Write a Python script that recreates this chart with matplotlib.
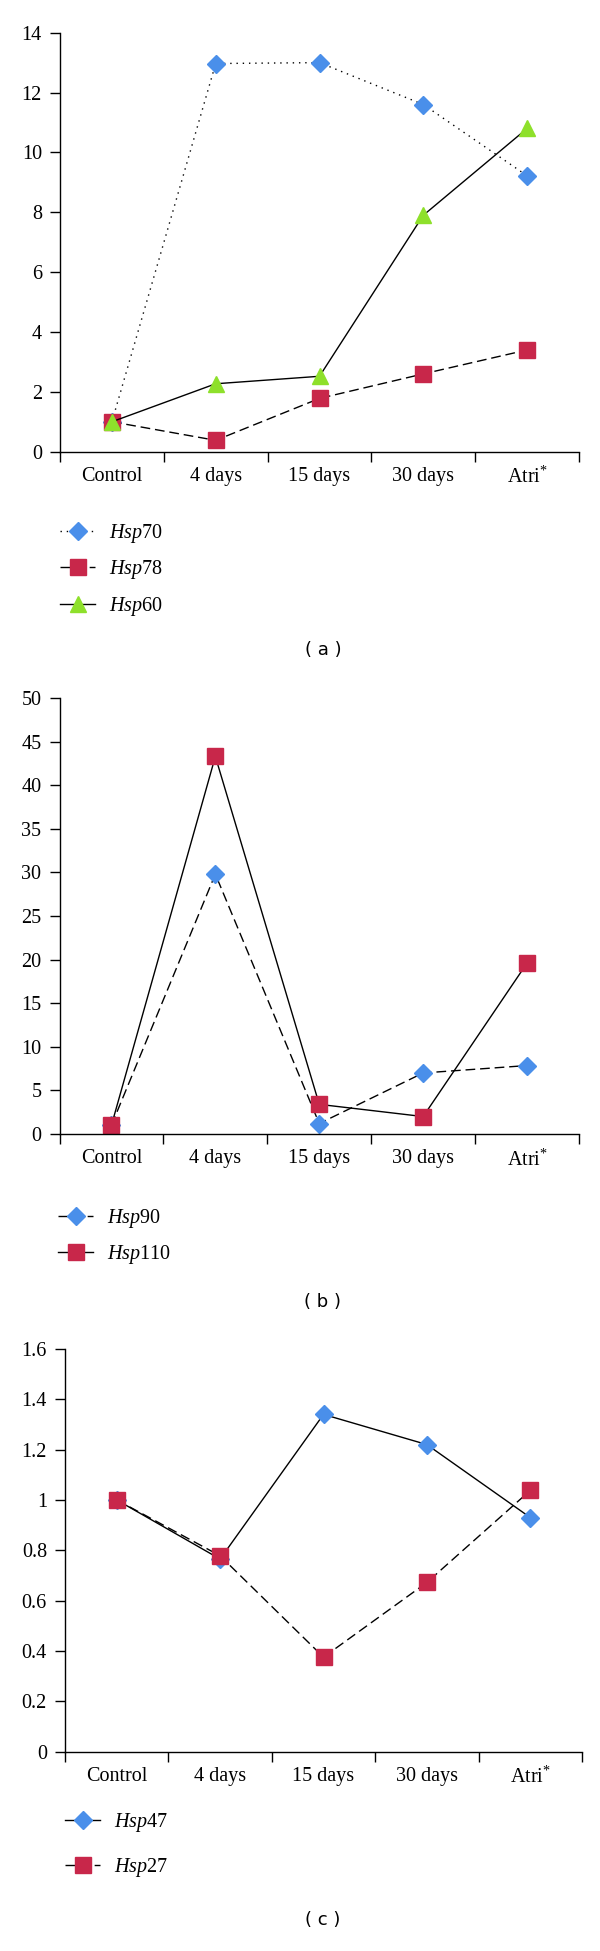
import matplotlib
matplotlib.use("Agg")
import matplotlib.pyplot as plt

plt.rcParams['font.family'] = ['Liberation Serif', 'DejaVu Serif']
plt.rcParams['mathtext.fontset'] = 'custom'
plt.rcParams['mathtext.rm'] = 'Liberation Serif'
plt.rcParams['mathtext.it'] = 'Liberation Serif:italic'

# data
categories = ['Control', '4 days', '15 days', '30 days', 'Atri$^{*}$']

hsp70 = [1.0, 12.97, 13.0, 11.6, 9.22]
hsp78 = [1.0, 0.38, 1.78, 2.6, 3.4]
hsp60 = [1.0, 2.27, 2.52, 7.9, 10.8]

hsp90 = [1.0, 29.8, 1.2, 7.0, 7.85]
hsp110 = [1.0, 43.3, 3.4, 2.0, 19.6]

hsp47 = [1.0, 0.765, 1.34, 1.22, 0.93]
hsp27 = [1.0, 0.778, 0.375, 0.672, 1.038]

yticks_a = [0, 2, 4, 6, 8, 10, 12, 14]
yticks_b = [0, 5, 10, 15, 20, 25, 30, 35, 40, 45, 50]
yticks_c = [0, 0.2, 0.4, 0.6, 0.8, 1.0, 1.2, 1.4, 1.6]
ylabels_c = ['0', '0.2', '0.4', '0.6', '0.8', '1', '1.2', '1.4', '1.6']

BLUE = '#4A8FEA'
RED = '#C8274A'
GREEN = '#8EE02B'

W, H = 600, 1951
fig = plt.figure(figsize=(W / 100, H / 100), dpi=100)


def px_axes(left, top, right, bottom):
    return fig.add_axes([left / W, 1 - bottom / H, (right - left) / W, (bottom - top) / H])


def style_axes(ax, ymax, yticks, ylabels=None):
    n = len(categories)
    ax.set_xlim(-0.5, n - 0.5)
    ax.set_ylim(0, ymax)
    for s in ['top', 'right']:
        ax.spines[s].set_visible(False)
    for s in ['left', 'bottom']:
        ax.spines[s].set_linewidth(1.0)
    ax.set_yticks(yticks)
    if ylabels is not None:
        ax.set_yticklabels(ylabels)
    # boundary ticks on x, labels sit between them
    ax.set_xticks([i - 0.5 for i in range(n + 1)])
    ax.set_xticklabels([])
    ax.set_xticks(range(n), categories, minor=True)
    ax.tick_params(axis='x', which='major', direction='out', length=7, width=1.0)
    ax.tick_params(axis='x', which='minor', length=0, pad=11, labelsize=14.5)
    ax.tick_params(axis='y', direction='out', length=7, width=1.0, pad=6, labelsize=14.5)


def add_legend(ax, x, ytop, spacing):
    leg = ax.legend(loc='upper left', bbox_to_anchor=(x / W, 1 - ytop / H),
                    bbox_transform=fig.transFigure, frameon=False, fontsize=14.5,
                    handlelength=1.75, handletextpad=0.7, borderpad=0, borderaxespad=0,
                    labelspacing=spacing)
    return leg


x = list(range(len(categories)))

# ---- panel (a)
ax1 = px_axes(60, 32.7, 579, 451.7)
ax1.plot(x, hsp70, color='black', lw=1.0, ls=(0, (1, 3.5)), marker='D', ms=9.5,
         mfc=BLUE, mec=BLUE, label=r'$\mathit{Hsp}$70', clip_on=False)
ax1.plot(x, hsp78, color='black', lw=1.0, ls=(0, (7, 3.5)), marker='s', ms=11.5,
         mfc=RED, mec=RED, label=r'$\mathit{Hsp}$78', clip_on=False)
ax1.plot(x, hsp60, color='black', lw=1.0, ls='-', marker='^', ms=12,
         mfc=GREEN, mec=GREEN, label=r'$\mathit{Hsp}$60', clip_on=False)
style_axes(ax1, 14, yticks_a)
add_legend(ax1, 60, 522, 0.66)
fig.text(323 / W, 1 - 650 / H, '( a )', ha='center', va='center',
         family='DejaVu Sans', fontsize=13)

# ---- panel (b)
ax2 = px_axes(59.5, 698, 579, 1134)
ax2.plot(x, hsp90, color='black', lw=1.0, ls=(0, (7, 3.5)), marker='D', ms=9.5,
         mfc=BLUE, mec=BLUE, label=r'$\mathit{Hsp}$90', clip_on=False)
ax2.plot(x, hsp110, color='black', lw=1.0, ls='-', marker='s', ms=11.5,
         mfc=RED, mec=RED, label=r'$\mathit{Hsp}$110', clip_on=False)
style_axes(ax2, 50, yticks_b)
add_legend(ax2, 58, 1207, 0.66)
fig.text(323 / W, 1 - 1302 / H, '( b )', ha='center', va='center',
         family='DejaVu Sans', fontsize=13)

# ---- panel (c)
ax3 = px_axes(65, 1349, 582, 1751.5)
ax3.plot(x, hsp47, color='black', lw=1.0, ls='-', marker='D', ms=9.5,
         mfc=BLUE, mec=BLUE, label=r'$\mathit{Hsp}$47', clip_on=False)
ax3.plot(x, hsp27, color='black', lw=1.0, ls=(0, (7, 3.5)), marker='s', ms=11.5,
         mfc=RED, mec=RED, label=r'$\mathit{Hsp}$27', clip_on=False)
style_axes(ax3, 1.6, yticks_c, ylabels_c)
add_legend(ax3, 65, 1811, 1.1)
fig.text(323 / W, 1 - 1920 / H, '( c )', ha='center', va='center',
         family='DejaVu Sans', fontsize=13)

fig.savefig('out.png', dpi=100)
